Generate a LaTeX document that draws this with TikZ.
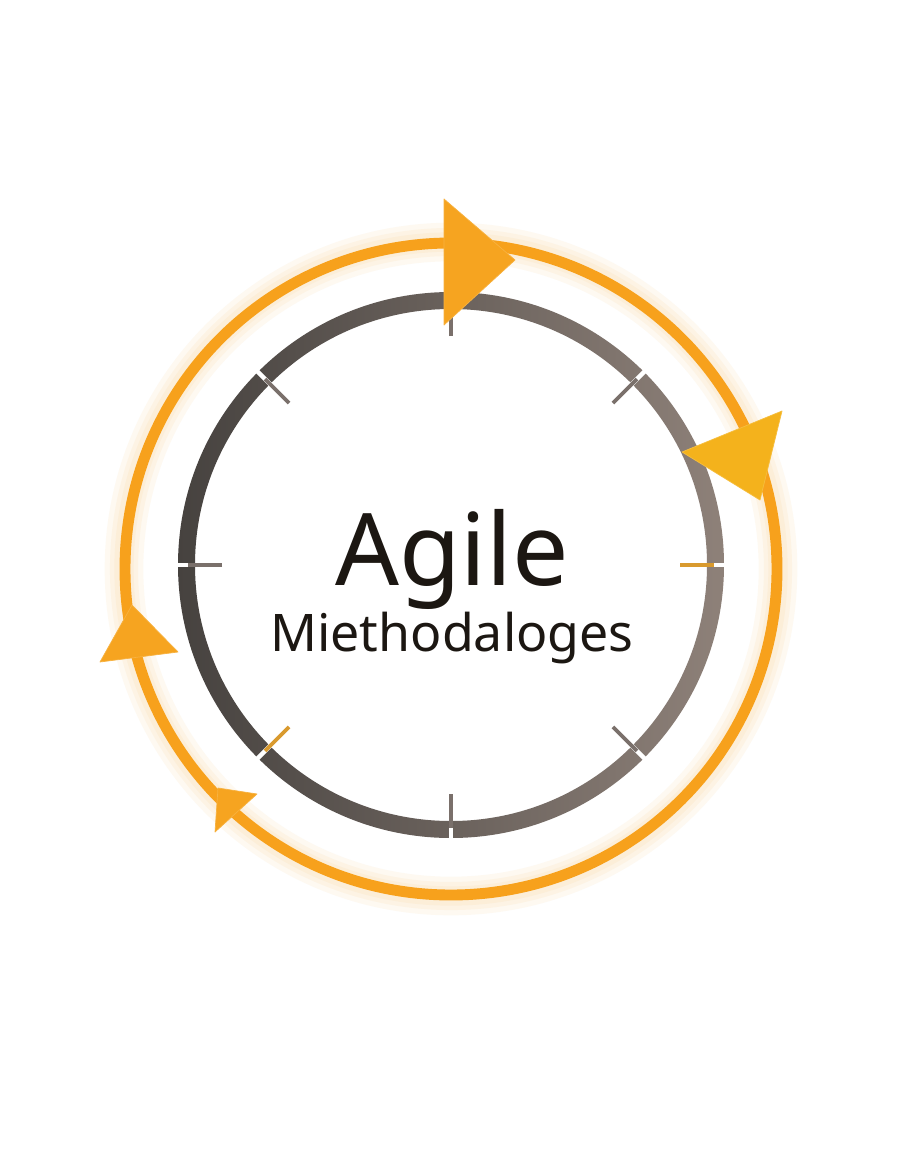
\documentclass[tikz,border=0pt]{standalone}
\usepackage{fontspec}
\setmainfont{Noto Sans}
\usetikzlibrary{calc}
\definecolor{loop-orange}{HTML}{F7A11C}
\definecolor{head-orange}{HTML}{F6A420}
\definecolor{head-gold}{HTML}{F4B21C}
\definecolor{ring-dark}{HTML}{46423F}
\definecolor{ring-light}{HTML}{8E8179}
\definecolor{tick-gray}{HTML}{7A706B}
\definecolor{tick-gold}{HTML}{D99A2E}
\definecolor{title-ink}{HTML}{1C1712}

\begin{document}
\begin{tikzpicture}[x=0.02cm, y=0.02cm,
	loopline/.style={draw=loop-orange, line width=6.2pt},
	glowline/.style={draw=loop-orange, opacity=0.06, line width=#1},
	tickgap/.style={draw=white, line width=2.6pt},
	tickbar/.style={draw=#1, line width=2.2pt},
	headshape/.style={fill=#1, draw=#1!85!white, line width=0.4pt, line join=round}]
	\useasboundingbox (0,0) rectangle (896,-1152);
	\fill[white] (0,0) rectangle (896,-1152);
	\coordinate (hub) at (451,-565);
	\coordinate (loop) at (451,-569);
	% orange loop with soft glow
	\foreach \w in {22pt,16pt,11pt}
		\draw[glowline=\w] (loop) circle (327);
	\draw[loopline] (loop) circle (326);
	% grey ring
	\path[left color=ring-dark, right color=ring-light, even odd rule]
		(hub) circle (273) (hub) circle (256);
	% ticks
	\foreach \a/\col in {90/tick-gray, 45/tick-gray, 0/tick-gold, -45/tick-gray,
		-90/tick-gray, -135/tick-gold, 180/tick-gray, 135/tick-gray} {
		\draw[tickgap] ($(hub)+(\a:252)$) -- ($(hub)+(\a:276)$);
		\draw[tickbar=\col] ($(hub)+(\a:229)$) -- ($(hub)+(\a:263)$);
	}
	% arrowheads
	\fill[headshape=head-orange] (444,-199) -- (515,-260) -- (444,-325) -- cycle;
	\fill[headshape=head-gold] (682,-452) -- (782,-411) -- (760,-500) -- cycle;
	\fill[headshape=head-orange] (132,-605) -- (178,-652) -- (100,-662) -- cycle;
	\fill[headshape=head-orange] (218,-788) -- (257,-794) -- (215,-832) -- cycle;
	% title
	\node[anchor=base, text=title-ink, font=\fontsize{57}{60}\selectfont] (agile) at (452,-585) {Agile};
	\node[anchor=base, text=title-ink, font=\fontsize{29.5}{32}\selectfont] (method) at (452,-651) {Miethodaloges};
\end{tikzpicture}
\end{document}
